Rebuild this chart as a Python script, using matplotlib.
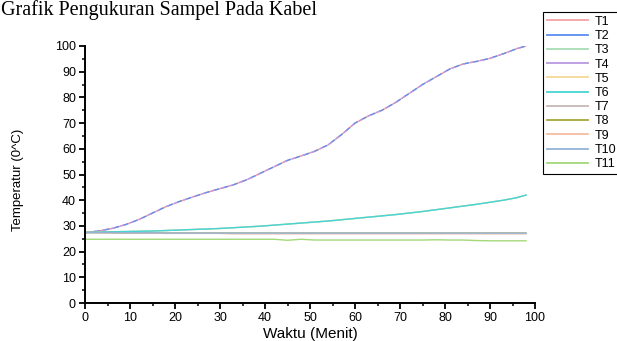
import matplotlib
matplotlib.use("Agg")
import matplotlib.pyplot as plt
from matplotlib.ticker import MultipleLocator

time = [0, 3, 6, 9, 12, 15, 18, 21, 24, 27, 30, 33, 36, 39, 42, 45, 48, 51, 54,
        57, 60, 63, 66, 69, 72, 75, 78, 81, 84, 87, 90, 93, 96, 98]

# high curve (heated samples)
hot = [27.4, 28.0, 29.0, 30.5, 32.5, 35.0, 37.5, 39.5, 41.3, 43.0, 44.5, 46.0,
       48.0, 50.5, 53.0, 55.5, 57.2, 59.0, 61.5, 65.5, 70.0, 72.8, 75.0, 78.0,
       81.5, 85.0, 88.0, 91.0, 93.0, 94.0, 95.2, 97.0, 99.0, 100.0]
# middle curve
warm = [27.5, 27.6, 27.7, 27.8, 27.9, 28.0, 28.2, 28.4, 28.6, 28.8, 29.0, 29.3,
        29.6, 29.9, 30.3, 30.7, 31.1, 31.5, 31.9, 32.4, 32.9, 33.4, 33.9, 34.4,
        35.0, 35.6, 36.3, 37.0, 37.7, 38.4, 39.2, 40.0, 41.0, 42.0]
# flat curves
flat_a = [27.4, 27.4, 27.3, 27.3, 27.3, 27.2, 27.1, 27.1, 27.1, 27.1, 27.1, 27.0,
          27.0, 27.0, 27.0, 27.0, 27.0, 27.0, 27.0, 27.0, 27.0, 27.0, 27.0, 27.0,
          27.0, 27.0, 27.0, 27.0, 27.0, 27.0, 27.0, 27.0, 27.0, 27.0]
flat_b = [27.4, 27.4, 27.4, 27.3, 27.3, 27.3, 27.2, 27.2, 27.2, 27.2, 27.2, 27.2,
          27.2, 27.2, 27.2, 27.2, 27.2, 27.2, 27.2, 27.2, 27.2, 27.2, 27.2, 27.2,
          27.2, 27.2, 27.2, 27.2, 27.2, 27.2, 27.2, 27.2, 27.2, 27.2]
ambient = [24.8, 24.8, 24.8, 24.8, 24.8, 24.8, 24.8, 24.8, 24.8, 24.8, 24.8, 24.8,
           24.8, 24.8, 24.8, 24.4, 24.8, 24.5, 24.5, 24.5, 24.5, 24.5, 24.5, 24.5,
           24.5, 24.5, 24.6, 24.5, 24.5, 24.3, 24.2, 24.2, 24.2, 24.2]

labels = ["T1", "T2", "T3", "T4", "T5", "T6", "T7", "T8", "T9", "T10", "T11"]
series = [hot, hot, warm, hot, warm, warm, flat_a, flat_b, flat_a, flat_b, ambient]
colors = ["#f4a3a3", "#5b8ef0", "#a8dcb4", "#b898e0", "#f2d898", "#48d4d4",
          "#c8b8b8", "#a8a838", "#f8bca0", "#90b4d8", "#a4d878"]
styles = ["-", (0, (4, 3)), "-", (2, (3, 4)), (0, (4, 4)), "-",
          "-", "-", "-", "-", "-"]

fig = plt.figure(figsize=(6.17, 3.41), dpi=100)
ax = fig.add_axes([85 / 617, 1 - 303 / 341, 450 / 617, 257 / 341])

for y, c, ls, lab in zip(series, colors, styles, labels):
    ax.plot(time, y, color=c, lw=1.0, ls=ls, label=lab)

ax.set_xlim(0, 100)
ax.set_ylim(0, 100)
for s in ["top", "right"]:
    ax.spines[s].set_visible(False)
for s in ["left", "bottom"]:
    ax.spines[s].set_linewidth(1.4)
ax.xaxis.set_major_locator(MultipleLocator(10))
ax.xaxis.set_minor_locator(MultipleLocator(5))
ax.yaxis.set_major_locator(MultipleLocator(10))
ax.yaxis.set_minor_locator(MultipleLocator(5))
ax.tick_params(which="major", direction="out", length=4.5, width=1.3,
               labelsize=9, pad=2)
ax.tick_params(which="minor", direction="out", length=2.5, width=1.1)
for t in ax.get_xticklabels() + ax.get_yticklabels():
    t.set_family("Liberation Sans")

ax.set_xlabel("Waktu (Menit)", family="Liberation Sans", fontsize=11, labelpad=2)
fig.text(18 / 617, 1 - 180 / 341, "Temperatur (0^C)", rotation=90,
         family=["Liberation Sans Narrow", "Liberation Sans"], fontsize=9.5,
         ha="center", va="center")

fig.text(0.002, 1 - 15 / 341, "Grafik Pengukuran Sampel Pada Kabel",
         family="Liberation Serif", fontsize=14.5, ha="left", va="baseline")

leg = fig.legend(loc="upper left", bbox_to_anchor=(543 / 617, 1 - 12 / 341),
                 prop={"family": "Liberation Sans", "size": 9},
                 frameon=True, fancybox=False, framealpha=1,
                 edgecolor="black", handlelength=3.3, handletextpad=0.5,
                 labelspacing=0.18, borderpad=0.3, borderaxespad=0)
leg.get_frame().set_linewidth(0.8)
for h in leg.get_lines():
    h.set_linestyle("-")
    h.set_linewidth(1.3)

fig.savefig("out.png", dpi=100)
